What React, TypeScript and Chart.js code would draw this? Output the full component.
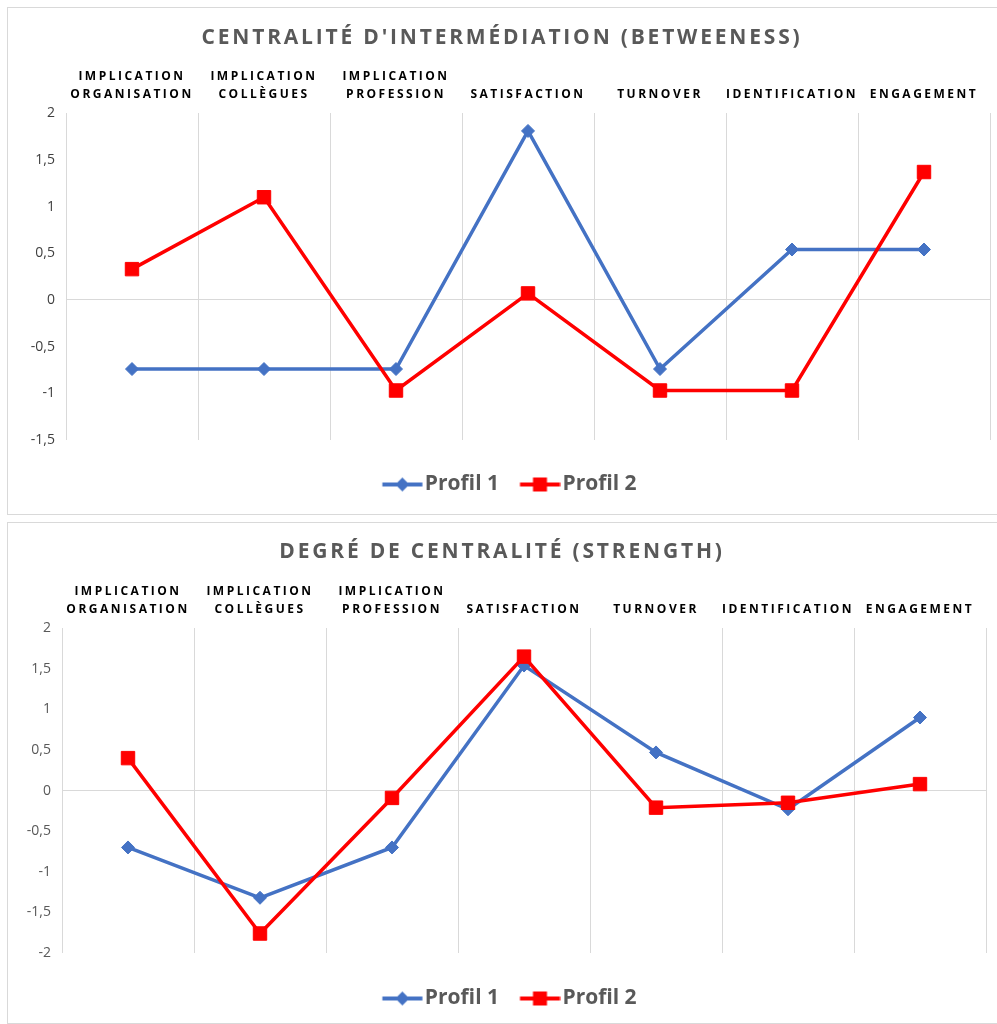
import React, { useEffect, useRef } from "react";
import { Chart, registerables } from "chart.js";

Chart.register(...registerables);

// ---------- DATA ----------
const categories: (string | string[])[] = [
  ["IMPLICATION", "ORGANISATION"],
  ["IMPLICATION", "COLLÈGUES"],
  ["IMPLICATION", "PROFESSION"],
  "SATISFACTION",
  "TURNOVER",
  "IDENTIFICATION",
  "ENGAGEMENT",
];
const seriesNames = ["Profil 1", "Profil 2"];

const betweennessTitle = "CENTRALITÉ D'INTERMÉDIATION (BETWEENESS)";
const betweennessProfil1 = [-0.74, -0.74, -0.74, 1.81, -0.74, 0.54, 0.54];
const betweennessProfil2 = [0.33, 1.1, -0.97, 0.07, -0.97, -0.97, 1.37];
const betweennessTicks = [-1.5, -1, -0.5, 0, 0.5, 1, 1.5, 2];

const strengthTitle = "DEGRÉ DE CENTRALITÉ (STRENGTH)";
const strengthProfil1 = [-0.7, -1.32, -0.7, 1.54, 0.47, -0.23, 0.9];
const strengthProfil2 = [0.4, -1.76, -0.09, 1.65, -0.21, -0.15, 0.08];
const strengthTicks = [-2, -1.5, -1, -0.5, 0, 0.5, 1, 1.5, 2];

// ---------- STYLE ----------
const BLUE = "#4472C4";
const RED = "#FF0000";
const GRID = "#d9d9d9";
const FONT = "'Open Sans', 'DejaVu Sans', sans-serif";
const LEGEND_BOX = 47;
const ICON_W = 64;

function makeIcon(color: string, shape: "diamond" | "square") {
  const c = document.createElement("canvas");
  c.width = ICON_W;
  c.height = 16;
  const g = c.getContext("2d")!;
  const a = LEGEND_BOX / 2 + ICON_W / 2 - 32; // line start inside icon
  const mid = a + 20;
  g.strokeStyle = color;
  g.lineWidth = 4;
  g.beginPath();
  g.moveTo(a, 8);
  g.lineTo(a + 40, 8);
  g.stroke();
  g.fillStyle = color;
  g.beginPath();
  if (shape === "diamond") {
    g.moveTo(mid, 1);
    g.lineTo(mid + 7, 8);
    g.lineTo(mid, 15);
    g.lineTo(mid - 7, 8);
    g.closePath();
  } else {
    g.rect(mid - 7, 1, 14, 14);
  }
  g.fill();
  return c;
}

const letterSpacingPlugin = {
  id: "letterSpacingPatch",
  beforeDraw(chart: any) {
    const x = chart.scales && chart.scales.x;
    if (x && !x.__lsPatched) {
      const orig = x.drawLabels;
      x.drawLabels = function (area: any) {
        const ctx = this.ctx;
        ctx.save();
        ctx.letterSpacing = "2.5px";
        orig.call(this, area);
        ctx.restore();
      };
      x.__lsPatched = true;
    }
    const t = chart.titleBlock;
    if (t && !t.__lsPatched) {
      const origT = t.draw;
      t.draw = function (area: any) {
        const ctx = this.ctx;
        ctx.save();
        ctx.letterSpacing = "2.8px";
        origT.call(this, area);
        ctx.restore();
      };
      t.__lsPatched = true;
    }
  },
};

type PanelProps = {
  title: string;
  p1: number[];
  p2: number[];
  yTicks: number[];
  box: { left: number; top: number; width: number; height: number };
  padLeft: number;
  padRight: number;
  yWidth: number;
  titleTop: number;
  xHeight: number;
  spacer: number;
  bottomPad: number;
  tickColor: string;
};

function Panel(props: PanelProps) {
  const ref = useRef<HTMLCanvasElement | null>(null);
  useEffect(() => {
    if (!ref.current) return;
    const icons = [makeIcon(BLUE, "diamond"), makeIcon(RED, "square")];
    const chart = new Chart(ref.current, {
      type: "line",
      data: {
        labels: categories as any,
        datasets: [
          {
            label: seriesNames[0],
            data: props.p1,
            borderColor: BLUE,
            backgroundColor: BLUE,
            borderWidth: 3.5,
            pointStyle: "rectRot",
            pointRadius: 6.5,
            pointBorderWidth: 1,
            pointBackgroundColor: BLUE,
            pointBorderColor: BLUE,
            tension: 0,
            order: 1,
          },
          {
            label: seriesNames[1],
            data: props.p2,
            borderColor: RED,
            backgroundColor: RED,
            borderWidth: 3.5,
            pointStyle: "rect",
            pointRadius: 9.5,
            pointBorderWidth: 1,
            pointBackgroundColor: RED,
            pointBorderColor: RED,
            tension: 0,
            order: 0,
          },
        ],
      },
      options: {
        animation: false,
        responsive: true,
        maintainAspectRatio: false,
        events: [],
        layout: {
          autoPadding: false,
          padding: { left: props.padLeft, right: props.padRight, top: 0, bottom: props.bottomPad },
        },
        plugins: {
          tooltip: { enabled: false },
          title: {
            display: true,
            text: props.title,
            color: "#595959",
            font: { family: FONT, size: 21, weight: "bold", lineHeight: 1.2 },
            padding: { top: props.titleTop, bottom: 0 },
          },
          legend: {
            display: true,
            position: "bottom",
            labels: {
              usePointStyle: true,
              pointStyleWidth: LEGEND_BOX,
              padding: 6,
              color: "#595959",
              font: { family: FONT, size: 21, weight: "bold" },
              generateLabels: (ch: any) => {
                const items = (Chart.defaults.plugins.legend.labels as any).generateLabels(ch);
                return items
                  .map((it: any) => ({
                    ...it,
                    pointStyle: icons[it.datasetIndex],
                    lineWidth: 0,
                    fontColor: "#595959",
                  }))
                  .sort((a: any, b: any) => a.datasetIndex - b.datasetIndex);
              },
            },
          },
        },
        scales: {
          x: {
            type: "category",
            position: "top",
            offset: true,
            grid: { display: true, offset: true, color: GRID, lineWidth: 1, drawTicks: false },
            border: { display: false },
            ticks: {
              autoSkip: false,
              maxRotation: 0,
              minRotation: 0,
              padding: 10,
              color: "#000000",
              font: { family: FONT, size: 12, weight: "bold", lineHeight: 1.5 },
            },
            afterFit: (scale: any) => {
              scale.height = props.xHeight;
              scale.paddingLeft = 0;
              scale.paddingRight = 0;
            },
          },
          legendSpacer: {
            type: "category",
            position: "bottom",
            display: true,
            offset: true,
            grid: { display: false, drawTicks: false },
            border: { display: false },
            ticks: { display: false },
            afterFit: (scale: any) => {
              scale.height = props.spacer;
              scale.paddingLeft = 0;
              scale.paddingRight = 0;
            },
          },
          y: {
            min: props.yTicks[0],
            max: props.yTicks[props.yTicks.length - 1],
            grid: {
              display: true,
              drawTicks: false,
              lineWidth: 1,
              color: (c: any) => (c.tick && c.tick.value === 0 ? GRID : "rgba(0,0,0,0)"),
            },
            border: { display: false },
            ticks: {
              stepSize: props.yTicks[1] - props.yTicks[0],
              padding: 11,
              color: props.tickColor,
              font: { family: FONT, size: 14 },
              callback: (v: any) => String(v).replace(".", ","),
            },
            afterFit: (scale: any) => {
              scale.width = props.yWidth;
            },
          },
        },
      } as any,
      plugins: [letterSpacingPlugin as any],
    });
    return () => chart.destroy();
  }, []);

  const b = props.box;
  return (
    <div
      style={{
        position: "absolute",
        left: b.left,
        top: b.top,
        width: b.width,
        height: b.height,
        boxSizing: "border-box",
        borderTop: "1px solid " + GRID,
        borderLeft: "1px solid " + GRID,
        borderBottom: "1px solid " + GRID,
        background: "#ffffff",
      }}
    >
      <canvas ref={ref} />
    </div>
  );
}

export default function App() {
  return (
    <div>
      <Panel
        title={betweennessTitle}
        p1={betweennessProfil1}
        p2={betweennessProfil2}
        yTicks={betweennessTicks}
        box={{ left: 7, top: 7, width: 990, height: 508 }}
        padLeft={6}
        padRight={7}
        yWidth={52}
        titleTop={17}
        xHeight={63}
        spacer={28}
        bottomPad={9}
        tickColor="#404040"
      />
      <Panel
        title={strengthTitle}
        p1={strengthProfil1}
        p2={strengthProfil2}
        yTicks={strengthTicks}
        box={{ left: 7, top: 522, width: 990, height: 502 }}
        padLeft={10}
        padRight={11}
        yWidth={44}
        titleTop={16}
        xHeight={64}
        spacer={29}
        bottomPad={4}
        tickColor="#595959"
      />
    </div>
  );
}
